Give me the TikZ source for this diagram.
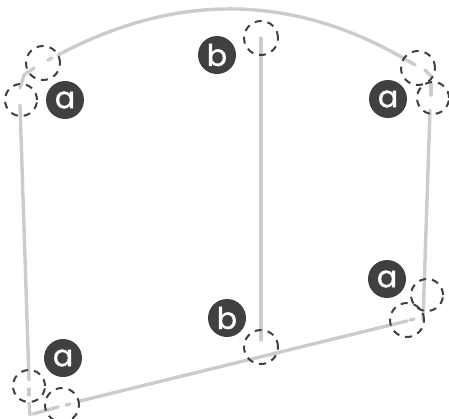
\documentclass[tikz,border=0pt]{standalone}
\usepackage{fontspec}
\setmainfont{Poppins}[FakeBold=1.2]
\newlength{\du}
\setlength{\du}{0.75pt}
\definecolor{railcolor}{rgb}{0.800000, 0.800000, 0.800000}
\definecolor{badgecolor}{rgb}{0.250000, 0.250000, 0.250000}
\tikzset{
  rail/.style={draw=railcolor, line width=3.4\du, line cap=round},
  ring/.style={circle, draw=badgecolor, line width=2\du, minimum size=#1\du, inner sep=0pt, dash pattern=on 7\du off 6\du},
  badge/.style={circle, fill=badgecolor, text=white, minimum size=38\du, inner sep=0pt, font=\fontsize{30\du}{32\du}\selectfont},
}
\begin{document}
\begin{tikzpicture}
\pgftransformxscale{1.000000}
\pgftransformyscale{-1.000000}
\useasboundingbox (0\du,0\du) rectangle (449\du,418\du);
% rail end points
\coordinate (archl) at (58\du,55\du);
\coordinate (archr) at (415\du,65\du);
\coordinate (stubtla) at (48\du,60\du);
\coordinate (stubtlb) at (52\du,58\du);
\coordinate (cornertl) at (34\du,68\du);
\coordinate (posttla) at (20\du,88\du);
\coordinate (posttlb) at (20\du,105\du);
\coordinate (postbla) at (29\du,380\du);
\coordinate (stubbla) at (29\du,389\du);
\coordinate (stubblb) at (29\du,395\du);
\coordinate (cornerbl) at (29\du,403\du);
\coordinate (cornerblb) at (30\du,415\du);
\coordinate (railbla) at (33\du,414\du);
\coordinate (railblb) at (58\du,407\du);
\coordinate (stubbra) at (66\du,405\du);
\coordinate (stubbrb) at (70\du,404\du);
\coordinate (railmida) at (80\du,401\du);
\coordinate (railbra) at (407\du,321\du);
\coordinate (stubrba) at (410\du,320\du);
\coordinate (stubrbb) at (414\du,319\du);
\coordinate (stubtra) at (425\du,70\du);
\coordinate (stubtrb) at (432\du,77\du);
\coordinate (posttra) at (431\du,84\du);
\coordinate (posttrb) at (431\du,95\du);
\coordinate (posttrc) at (430\du,110\du);
\coordinate (postbrb) at (423\du,320\du);
\coordinate (postmidt) at (261\du,38\du);
\coordinate (postmidb) at (261\du,340\du);
% arch
\draw[rail] (archl) .. controls (177\du,-8\du) and (296\du,-8\du) .. (archr);
\draw[rail] (stubtla)--(stubtlb);
\draw[rail] (cornertl)--(24\du,75\du)--(posttla);
\draw[rail] (stubtra)--(stubtrb);
% posts
\draw[rail] (posttlb)--(postbla);
\draw[rail] (stubbla)--(stubblb);
\draw[rail] (cornerbl)--(cornerblb);
\draw[rail] (posttra)--(posttrb);
\draw[rail] (posttrc)--(postbrb);
\draw[rail] (postmidt)--(postmidb);
% bottom rail
\draw[rail] (railbla)--(railblb);
\draw[rail] (stubbra)--(stubbrb);
\draw[rail] (railmida)--(railbra);
\draw[rail] (stubrba)--(stubrbb);
% rings
\node[ring=34] (ringtla) at (43\du,63\du) {};
\node[ring=32] (ringtlb) at (21\du,100\du) {};
\node[ring=32] (ringbla) at (29\du,386\du) {};
\node[ring=34] (ringblb) at (62\du,405\du) {};
\node[ring=34] (ringtra) at (418\du,68\du) {};
\node[ring=32] (ringtrb) at (433\du,98\du) {};
\node[ring=32] (ringbra) at (427\du,295\du) {};
\node[ring=34] (ringbrb) at (407\du,320\du) {};
\node[ring=34] (ringmidt) at (261\du,38\du) {};
\node[ring=34] (ringmidb) at (261\du,347\du) {};
% badges
\node[badge] (badgetl) at (65\du,100\du) {a};
\node[badge] (badgebl) at (63\du,358\du) {a};
\node[badge] (badgetr) at (388\du,99\du) {a};
\node[badge] (badgebr) at (387\du,279\du) {a};
\node[badge] (badgemidt) at (217\du,55\du) {b};
\node[badge] (badgemidb) at (227\du,318\du) {b};
\end{tikzpicture}
\end{document}
